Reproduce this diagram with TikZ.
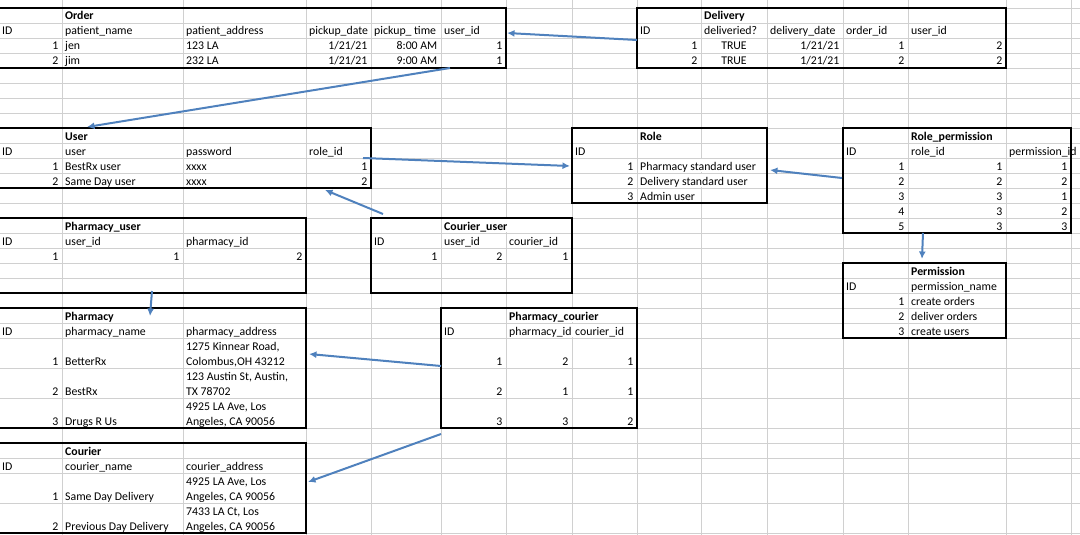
\documentclass[tikz,border=0pt]{standalone}
\usepackage{fontspec}
\setmainfont{Carlito}
\usetikzlibrary{arrows.meta}
\definecolor{arrowblue}{RGB}{79,129,189}
\definecolor{gridgray}{RGB}{208,208,208}
\tikzset{
  gridln/.style={draw=gridgray, line width=0.9pt},
  tblbox/.style={draw, line width=1.2pt, anchor=north west, inner sep=0pt, outer sep=0pt},
  lt/.style={anchor=base west, inner sep=0pt},
  rt/.style={anchor=base east, inner sep=0pt},
  ct/.style={anchor=base, inner sep=0pt},
  tt/.style={lt, font=\fontsize{11.8}{14}\selectfont\bfseries},
  conn/.style={draw=arrowblue, line width=2pt, -{Latex[length=7.5pt,width=7pt]},
    preaction={draw=black, draw opacity=0.18, line width=2.6pt, transform canvas={shift={(1pt,-1.5pt)}}}}
}
\begin{document}
\begin{tikzpicture}[x=1pt, y=-1pt, every node/.append style={font=\fontsize{11.8}{14}\selectfont}]
      \useasboundingbox (0,0) rectangle (1080,535);
      % sheet grid
      \foreach \x in {62,183,306,371,441,506,572,637,701,767,843,908,1006,1071}
        \draw[gridln] (\x,0) -- (\x,535);
      \foreach \k in {0,...,22}
        \draw[gridln] (0,8+15*\k) -- (1080,8+15*\k);
      \foreach \y in {368,398,428,443,458,473,503,533}
        \draw[gridln] (0,\y) -- (1080,\y);
      % text running over a cell hides the grid line
      \fill[white] (699.5,158.6) rectangle (702.5,172.4);
      \fill[white] (699.5,173.6) rectangle (702.5,187.4);
      \fill[white] (570.5,308.6) rectangle (573.5,322.4);
      \fill[white] (570.5,323.6) rectangle (573.5,337.4);
      \fill[white] (504.5,218.6) rectangle (507.5,232.4);
      % table frames
      \path
        (-4,8) node[tblbox, minimum width=510pt, minimum height=60pt] (order){}
        (637,8) node[tblbox, minimum width=369pt, minimum height=60pt] (delivery){}
        (-4,128) node[tblbox, minimum width=375pt, minimum height=60pt] (user){}
        (572,128) node[tblbox, minimum width=195pt, minimum height=75pt] (role){}
        (843,128) node[tblbox, minimum width=228pt, minimum height=105pt] (rolePerm){}
        (-4,218) node[tblbox, minimum width=310pt, minimum height=75pt] (pharmUser){}
        (371,218) node[tblbox, minimum width=201pt, minimum height=75pt] (courierUser){}
        (843,263) node[tblbox, minimum width=163pt, minimum height=75pt] (permission){}
        (-4,308) node[tblbox, minimum width=310pt, minimum height=120pt] (pharmacy){}
        (441,308) node[tblbox, minimum width=196pt, minimum height=120pt] (pharmCourier){}
        (-4,443) node[tblbox, minimum width=310pt, minimum height=90pt] (courier){};
      % Order
      \path
        (65,20) node[tt] (o0){Order}
        (2,35) node[lt] (o1){ID}
        (65,35) node[lt] (o2){patient\_name}
        (186,35) node[lt] (o3){patient\_address}
        (309,35) node[lt] (o4){pickup\_date}
        (374,35) node[lt] (o5){pickup\_ time}
        (444,35) node[lt] (o6){user\_id}
        (58.5,50) node[rt] (o7){1}
        (65,50) node[lt] (o8){jen}
        (186,50) node[lt] (o9){123 LA}
        (367.5,50) node[rt] (o10){1/21/21}
        (437.5,50) node[rt] (o11){8:00 AM}
        (502.5,50) node[rt] (o12){1}
        (58.5,65) node[rt] (o13){2}
        (65,65) node[lt] (o14){jim}
        (186,65) node[lt] (o15){232 LA}
        (367.5,65) node[rt] (o16){1/21/21}
        (437.5,65) node[rt] (o17){9:00 AM}
        (502.5,65) node[rt] (o18){1};
      % Delivery
      \path
        (704,20) node[tt] (d0){Delivery}
        (640,35) node[lt] (d1){ID}
        (704,35) node[lt] (d2){deliveried?}
        (770,35) node[lt] (d3){delivery\_date}
        (846,35) node[lt] (d4){order\_id}
        (911,35) node[lt] (d5){user\_id}
        (697.5,50) node[rt] (d6){1}
        (734,50) node[ct] (d7){TRUE}
        (839.5,50) node[rt] (d8){1/21/21}
        (904.5,50) node[rt] (d9){1}
        (1002.5,50) node[rt] (d10){2}
        (697.5,65) node[rt] (d11){2}
        (734,65) node[ct] (d12){TRUE}
        (839.5,65) node[rt] (d13){1/21/21}
        (904.5,65) node[rt] (d14){2}
        (1002.5,65) node[rt] (d15){2};
      % User
      \path
        (65,140) node[tt] (u0){User}
        (2,155) node[lt] (u1){ID}
        (65,155) node[lt] (u2){user}
        (186,155) node[lt] (u3){password}
        (309,155) node[lt] (u4){role\_id}
        (58.5,170) node[rt] (u5){1}
        (65,170) node[lt] (u6){BestRx user}
        (186,170) node[lt] (u7){xxxx}
        (367.5,170) node[rt] (u8){1}
        (58.5,185) node[rt] (u9){2}
        (65,185) node[lt] (u10){Same Day user}
        (186,185) node[lt] (u11){xxxx}
        (367.5,185) node[rt] (u12){2};
      % Role
      \path
        (640,140) node[tt] (r0){Role}
        (575,155) node[lt] (r1){ID}
        (633.5,170) node[rt] (r2){1}
        (640,170) node[lt] (r3){Pharmacy standard user}
        (633.5,185) node[rt] (r4){2}
        (640,185) node[lt] (r5){Delivery standard user}
        (633.5,200) node[rt] (r6){3}
        (640,200) node[lt] (r7){Admin user};
      % Role_permission
      \path
        (911,140) node[tt] (rp0){Role\_permission}
        (846,155) node[lt] (rp1){ID}
        (911,155) node[lt] (rp2){role\_id}
        (1009,155) node[lt] (rp3){permission\_id};
      \foreach \i/\r/\p [count=\n] in {1/1/1,2/2/2,3/3/1,4/3/2,5/3/3}
        \path (904.5,155+15*\n) node[rt] (rpa\n){\i}
              (1002.5,155+15*\n) node[rt] (rpb\n){\r}
              (1067.5,155+15*\n) node[rt] (rpc\n){\p};
      % Pharmacy_user
      \path
        (65,230) node[tt] (pu0){Pharmacy\_user}
        (2,245) node[lt] (pu1){ID}
        (65,245) node[lt] (pu2){user\_id}
        (186,245) node[lt] (pu3){pharmacy\_id}
        (58.5,260) node[rt] (pu4){1}
        (179.5,260) node[rt] (pu5){1}
        (302.5,260) node[rt] (pu6){2};
      % Courier_user
      \path
        (444,230) node[tt] (cu0){Courier\_user}
        (374,245) node[lt] (cu1){ID}
        (444,245) node[lt] (cu2){user\_id}
        (509,245) node[lt] (cu3){courier\_id}
        (437.5,260) node[rt] (cu4){1}
        (502.5,260) node[rt] (cu5){2}
        (568.5,260) node[rt] (cu6){1};
      % Permission
      \path
        (911,275) node[tt] (pe0){Permission}
        (846,290) node[lt] (pe1){ID}
        (911,290) node[lt] (pe2){permission\_name}
        (904.5,305) node[rt] (pe3){1}
        (911,305) node[lt] (pe4){create orders}
        (904.5,320) node[rt] (pe5){2}
        (911,320) node[lt] (pe6){deliver orders}
        (904.5,335) node[rt] (pe7){3}
        (911,335) node[lt] (pe8){create users};
      % Pharmacy
      \path
        (65,320) node[tt] (ph0){Pharmacy}
        (2,335) node[lt] (ph1){ID}
        (65,335) node[lt] (ph2){pharmacy\_name}
        (186,335) node[lt] (ph3){pharmacy\_address}
        (58.5,365) node[rt] (ph4){1}
        (65,365) node[lt] (ph5){BetterRx}
        (186,350) node[lt] (ph6){1275 Kinnear Road,}
        (186,365) node[lt] (ph7){Colombus,OH 43212}
        (58.5,395) node[rt] (ph8){2}
        (65,395) node[lt] (ph9){BestRx}
        (186,380) node[lt] (ph10){123 Austin St, Austin,}
        (186,395) node[lt] (ph11){TX 78702}
        (58.5,425) node[rt] (ph12){3}
        (65,425) node[lt] (ph13){Drugs R Us}
        (186,410) node[lt] (ph14){4925 LA Ave, Los}
        (186,425) node[lt] (ph15){Angeles, CA 90056};
      % Pharmacy_courier
      \path
        (509,320) node[tt] (pc0){Pharmacy\_courier}
        (444,335) node[lt] (pc1){ID}
        (509,335) node[lt] (pc2){pharmacy\_id}
        (575,335) node[lt] (pc3){courier\_id};
      \foreach \i/\ph/\co [count=\n] in {1/2/1,2/1/1,3/3/2}
        \path (502.5,335+30*\n) node[rt] (pca\n){\i}
              (568.5,335+30*\n) node[rt] (pcb\n){\ph}
              (633.5,335+30*\n) node[rt] (pcc\n){\co};
      % Courier
      \path
        (65,455) node[tt] (c0){Courier}
        (2,470) node[lt] (c1){ID}
        (65,470) node[lt] (c2){courier\_name}
        (186,470) node[lt] (c3){courier\_address}
        (58.5,500) node[rt] (c4){1}
        (65,500) node[lt] (c5){Same Day Delivery}
        (186,485) node[lt] (c6){4925 LA Ave, Los}
        (186,500) node[lt] (c7){Angeles, CA 90056}
        (58.5,530) node[rt] (c8){2}
        (65,530) node[lt] (c9){Previous Day Delivery}
        (186,515) node[lt] (c10){7433 LA Ct, Los}
        (186,530) node[lt] (c11){Angeles, CA 90056};
      % links
      \begin{scope}[conn]
        \draw ([yshift=-32pt]delivery.north west) to ([xshift=1pt,yshift=-25pt]order.north east);
        \draw ([xshift=454pt]order.south west) to ([xshift=91pt,yshift=1pt]user.north west);
        \draw ([xshift=-8pt,yshift=-30pt]user.north east) to ([xshift=-2pt,yshift=-38pt]role.north west);
        \draw ([xshift=-1pt,yshift=-50pt]rolePerm.north west) to ([xshift=3pt,yshift=-42pt]role.north east);
        \draw ([xshift=80pt]rolePerm.south west) to ([xshift=79pt,yshift=4pt]permission.north west);
        \draw ([xshift=12pt,yshift=4pt]courierUser.north west) to ([xshift=-46pt,yshift=-2pt]user.south east);
        \draw ([xshift=156pt,yshift=2pt]pharmUser.south west) to ([xshift=154pt,yshift=-8pt]pharmacy.north west);
        \draw ([yshift=-58pt]pharmCourier.north west) to ([xshift=3pt,yshift=-46pt]pharmacy.north east);
        \draw ([yshift=-6pt]pharmCourier.south west) to ([xshift=2pt,yshift=-39pt]courier.north east);
      \end{scope}
    \end{tikzpicture}
\end{document}
